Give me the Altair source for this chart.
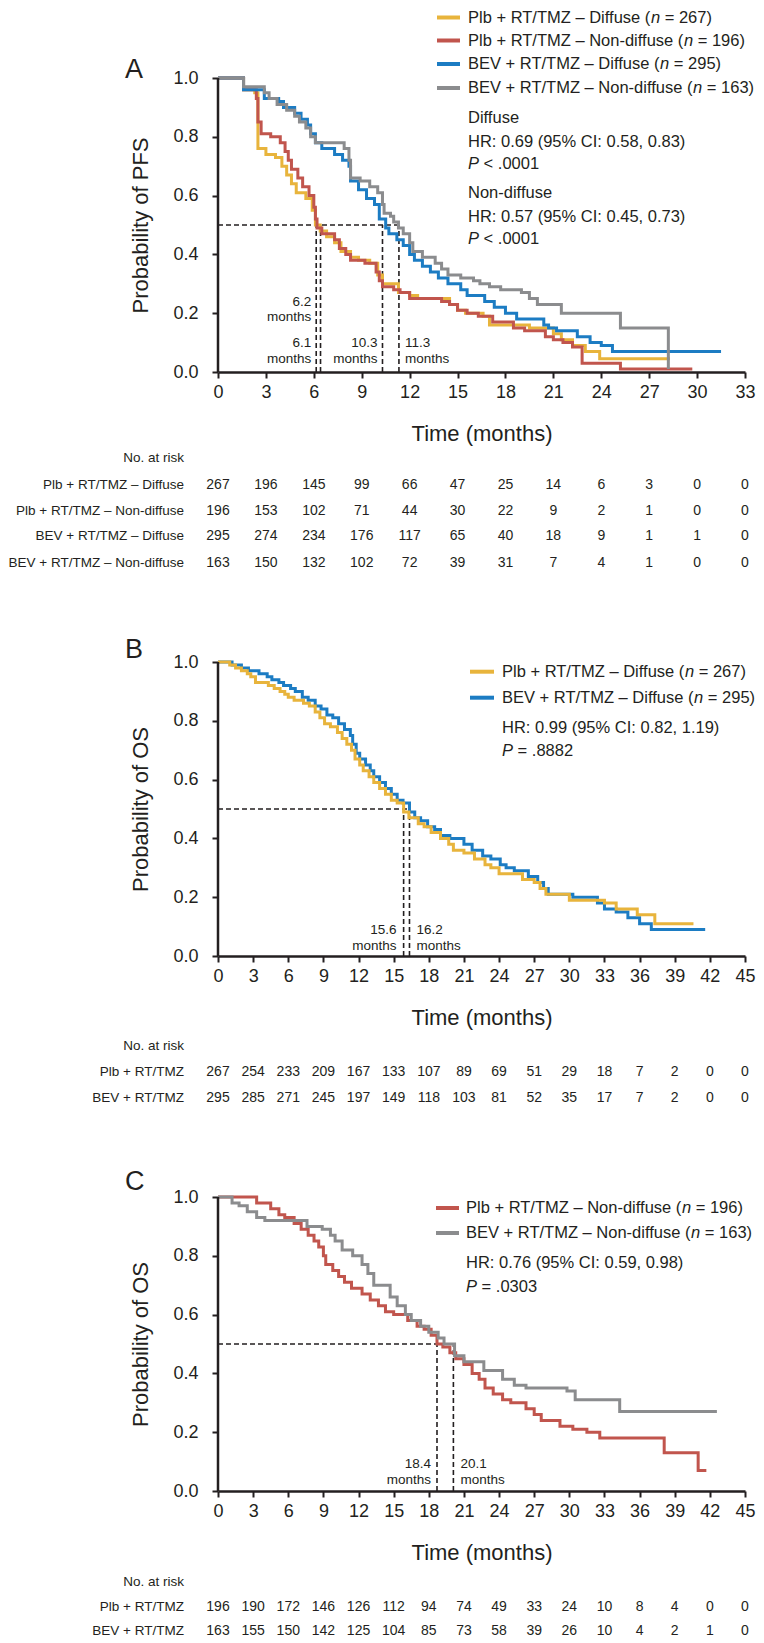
import altair as alt
import pandas as pd

INK = "#231F20"
YELLOW = "#E8B43C"
RED = "#C1554D"
BLUE = "#1C7CC3"
GRAY = "#8B8C8E"
FONT = "'Liberation Sans', Arial, Helvetica, sans-serif"

# ---------------- Panel A : PFS (month, probability) ----------------
A_PLB_DIFF = [(0, 1.0), (1.6, 0.96), (2.3, 0.95), (2.5, 0.76), (3.0, 0.74), (3.6, 0.73), (4.0, 0.70),
              (4.3, 0.67), (4.6, 0.64), (4.9, 0.61), (5.5, 0.59), (5.9, 0.55), (6.1, 0.50), (6.4, 0.48),
              (6.8, 0.46), (7.3, 0.44), (7.7, 0.41), (8.3, 0.39), (8.8, 0.38), (9.5, 0.37), (10.0, 0.33),
              (10.3, 0.30), (11.3, 0.27), (12.0, 0.26), (12.5, 0.25), (14.5, 0.23), (15.0, 0.21),
              (15.5, 0.20), (16.6, 0.19), (17.0, 0.16), (19.5, 0.15), (21.0, 0.13), (21.5, 0.11),
              (22.2, 0.09), (23.0, 0.07), (23.9, 0.045), (28.3, 0.045)]
A_PLB_NON = [(0, 1.0), (1.6, 0.96), (2.4, 0.93), (2.5, 0.85), (2.7, 0.81), (3.3, 0.80), (3.9, 0.78),
             (4.2, 0.75), (4.4, 0.72), (4.6, 0.69), (5.0, 0.66), (5.3, 0.63), (5.7, 0.60), (6.0, 0.56),
             (6.1, 0.52), (6.2, 0.49), (6.5, 0.47), (7.3, 0.45), (7.6, 0.42), (8.0, 0.40), (8.3, 0.38),
             (9.2, 0.37), (9.9, 0.34), (10.1, 0.31), (10.3, 0.29), (11.0, 0.28), (11.4, 0.27),
             (12.0, 0.25), (14.0, 0.24), (14.5, 0.23), (15.0, 0.21), (15.6, 0.20), (16.3, 0.19),
             (17.2, 0.17), (18.5, 0.15), (19.2, 0.14), (20.5, 0.12), (21.0, 0.11), (21.6, 0.10),
             (22.2, 0.085), (22.8, 0.03), (25.2, 0.01), (29.7, 0.01)]
A_BEV_DIFF = [(0, 1.0), (1.6, 0.96), (2.9, 0.93), (3.8, 0.92), (4.1, 0.90), (4.8, 0.88), (5.2, 0.86),
              (5.6, 0.84), (5.8, 0.81), (6.1, 0.78), (6.5, 0.76), (7.3, 0.74), (7.8, 0.72), (8.2, 0.70),
              (8.3, 0.65), (8.8, 0.62), (9.3, 0.59), (9.8, 0.57), (10.1, 0.52), (10.5, 0.49),
              (10.7, 0.47), (11.2, 0.45), (11.6, 0.43), (12.0, 0.40), (12.3, 0.38), (12.8, 0.36),
              (13.3, 0.34), (13.8, 0.32), (14.4, 0.30), (15.2, 0.28), (15.6, 0.26), (16.7, 0.24),
              (17.3, 0.22), (18.0, 0.20), (18.7, 0.18), (20.4, 0.16), (20.7, 0.15), (21.2, 0.14),
              (22.5, 0.12), (23.3, 0.10), (24.0, 0.09), (24.7, 0.07), (31.5, 0.07)]
A_BEV_NON = [(0, 1.0), (1.6, 0.97), (2.9, 0.95), (3.2, 0.93), (3.7, 0.91), (4.3, 0.89), (4.8, 0.87),
             (5.1, 0.85), (5.5, 0.83), (5.8, 0.80), (6.1, 0.78), (7.9, 0.76), (8.2, 0.72), (8.3, 0.66),
             (8.9, 0.65), (9.5, 0.63), (10.0, 0.61), (10.3, 0.57), (10.4, 0.54), (10.8, 0.53),
             (11.0, 0.51), (11.3, 0.49), (11.6, 0.47), (12.0, 0.44), (12.2, 0.41), (12.8, 0.39),
             (13.6, 0.37), (14.0, 0.35), (14.4, 0.33), (15.2, 0.32), (16.0, 0.31), (16.4, 0.30),
             (17.0, 0.29), (17.7, 0.28), (19.0, 0.27), (19.5, 0.25), (20.0, 0.23), (21.5, 0.20),
             (25.2, 0.15), (28.2, 0.01)]

# ---------------- Panel B : OS diffuse ----------------
B_PLB = [(0, 1.0), (1.0, 0.99), (1.5, 0.98), (2.0, 0.97), (2.5, 0.96), (2.8, 0.95), (3.2, 0.93),
         (4.3, 0.92), (4.8, 0.91), (5.3, 0.90), (5.7, 0.89), (6.0, 0.88), (6.5, 0.87), (7.3, 0.86),
         (7.8, 0.85), (8.3, 0.83), (8.7, 0.81), (9.1, 0.79), (9.6, 0.78), (10.2, 0.76), (10.6, 0.74),
         (11.0, 0.72), (11.4, 0.70), (11.7, 0.67), (12.1, 0.65), (12.4, 0.63), (12.9, 0.61),
         (13.3, 0.59), (13.8, 0.57), (14.3, 0.55), (14.8, 0.53), (15.3, 0.52), (15.85, 0.49),
         (16.3, 0.47), (17.1, 0.45), (17.6, 0.44), (18.2, 0.42), (19.0, 0.40), (19.7, 0.38),
         (20.1, 0.36), (21.0, 0.35), (21.9, 0.33), (22.8, 0.31), (23.3, 0.30), (24.0, 0.28),
         (26.0, 0.26), (27.0, 0.25), (27.5, 0.23), (28.0, 0.21), (30.0, 0.19), (33.0, 0.18),
         (34.0, 0.16), (35.8, 0.14), (37.3, 0.11), (40.6, 0.11)]
B_BEV = [(0, 1.0), (1.2, 0.99), (2.0, 0.98), (2.6, 0.97), (3.5, 0.96), (4.2, 0.95), (4.6, 0.94),
         (5.2, 0.93), (5.6, 0.92), (6.2, 0.91), (6.6, 0.90), (7.2, 0.88), (7.7, 0.87), (8.3, 0.85),
         (8.8, 0.84), (9.3, 0.82), (9.8, 0.81), (10.3, 0.79), (10.8, 0.77), (11.3, 0.75), (11.5, 0.72),
         (11.8, 0.69), (12.1, 0.67), (12.6, 0.65), (13.0, 0.63), (13.3, 0.61), (13.8, 0.59),
         (14.3, 0.57), (14.8, 0.55), (15.3, 0.53), (15.8, 0.52), (16.35, 0.49), (16.8, 0.47),
         (17.3, 0.46), (17.9, 0.44), (18.5, 0.43), (19.0, 0.41), (19.8, 0.40), (21.0, 0.38),
         (21.7, 0.36), (22.6, 0.34), (23.3, 0.33), (24.1, 0.31), (24.6, 0.30), (25.3, 0.29),
         (26.5, 0.27), (27.3, 0.25), (27.8, 0.23), (28.2, 0.21), (30.3, 0.20), (32.4, 0.18),
         (33.0, 0.16), (34.0, 0.15), (35.0, 0.13), (36.0, 0.11), (37.0, 0.09), (41.6, 0.09)]

# ---------------- Panel C : OS non-diffuse ----------------
C_PLB = [(0, 1.0), (3.3, 0.98), (4.5, 0.96), (5.2, 0.94), (5.7, 0.93), (6.5, 0.91), (7.1, 0.89),
         (7.7, 0.87), (8.2, 0.85), (8.6, 0.83), (9.0, 0.80), (9.2, 0.77), (9.8, 0.75), (10.3, 0.73),
         (10.8, 0.71), (11.4, 0.69), (12.3, 0.67), (13.0, 0.65), (13.7, 0.63), (14.3, 0.61),
         (15.0, 0.60), (16.2, 0.58), (17.0, 0.56), (17.6, 0.55), (18.2, 0.53), (18.7, 0.50),
         (19.2, 0.49), (19.8, 0.47), (20.3, 0.45), (21.0, 0.43), (21.7, 0.40), (22.3, 0.38),
         (22.8, 0.35), (23.5, 0.33), (24.3, 0.31), (25.0, 0.30), (26.3, 0.28), (27.0, 0.26),
         (27.6, 0.24), (29.2, 0.22), (30.3, 0.21), (31.5, 0.20), (32.6, 0.18), (38.1, 0.13),
         (41.0, 0.07), (41.7, 0.07)]
C_BEV = [(0, 1.0), (1.2, 0.98), (1.8, 0.97), (2.5, 0.95), (3.3, 0.93), (4.0, 0.92), (7.6, 0.90),
         (8.9, 0.89), (9.6, 0.87), (10.0, 0.85), (10.6, 0.82), (11.5, 0.80), (12.3, 0.77),
         (12.8, 0.74), (13.3, 0.70), (14.7, 0.66), (15.3, 0.63), (16.0, 0.60), (16.5, 0.58),
         (17.3, 0.56), (18.0, 0.54), (18.8, 0.52), (19.3, 0.50), (20.2, 0.46), (21.0, 0.44),
         (22.7, 0.41), (24.3, 0.38), (25.3, 0.36), (26.3, 0.35), (29.8, 0.34), (30.5, 0.31),
         (34.3, 0.27), (42.6, 0.27)]

# medians (vertical dashed lines)
A_MED_LINES = [6.15, 6.42, 10.3, 11.33]
B_MED_LINES = [15.85, 16.35]
C_MED_LINES = [18.7, 20.1]

# legends / statistics (text, italic?)
A_LEGEND = [[("Plb + RT/TMZ – Diffuse (", False), ("n", True), (" = 267)", False)],
            [("Plb + RT/TMZ – Non-diffuse (", False), ("n", True), (" = 196)", False)],
            [("BEV + RT/TMZ – Diffuse (", False), ("n", True), (" = 295)", False)],
            [("BEV + RT/TMZ – Non-diffuse (", False), ("n", True), (" = 163)", False)]]
A_STATS = [[("Diffuse", False)], [("HR: 0.69 (95% CI: 0.58, 0.83)", False)], [("P", True), (" < .0001", False)],
           [("Non-diffuse", False)], [("HR: 0.57 (95% CI: 0.45, 0.73)", False)], [("P", True), (" < .0001", False)]]
B_LEGEND = [[("Plb + RT/TMZ – Diffuse (", False), ("n", True), (" = 267)", False)],
            [("BEV + RT/TMZ – Diffuse (", False), ("n", True), (" = 295)", False)]]
B_STATS = [[("HR: 0.99 (95% CI: 0.82, 1.19)", False)], [("P", True), (" = .8882", False)]]
C_LEGEND = [[("Plb + RT/TMZ – Non-diffuse (", False), ("n", True), (" = 196)", False)],
            [("BEV + RT/TMZ – Non-diffuse (", False), ("n", True), (" = 163)", False)]]
C_STATS = [[("HR: 0.76 (95% CI: 0.59, 0.98)", False)], [("P", True), (" = .0303", False)]]

# numbers at risk
A_RISK_LABELS = ["Plb + RT/TMZ – Diffuse", "Plb + RT/TMZ – Non-diffuse",
                 "BEV + RT/TMZ – Diffuse", "BEV + RT/TMZ – Non-diffuse"]
A_RISK = [[267, 196, 145, 99, 66, 47, 25, 14, 6, 3, 0, 0],
          [196, 153, 102, 71, 44, 30, 22, 9, 2, 1, 0, 0],
          [295, 274, 234, 176, 117, 65, 40, 18, 9, 1, 1, 0],
          [163, 150, 132, 102, 72, 39, 31, 7, 4, 1, 0, 0]]
B_RISK_LABELS = ["Plb + RT/TMZ", "BEV + RT/TMZ"]
B_RISK = [[267, 254, 233, 209, 167, 133, 107, 89, 69, 51, 29, 18, 7, 2, 0, 0],
          [295, 285, 271, 245, 197, 149, 118, 103, 81, 52, 35, 17, 7, 2, 0, 0]]
C_RISK_LABELS = ["Plb + RT/TMZ", "BEV + RT/TMZ"]
C_RISK = [[196, 190, 172, 146, 126, 112, 94, 74, 49, 33, 24, 10, 8, 4, 0, 0],
          [163, 155, 150, 142, 125, 104, 85, 73, 58, 39, 26, 10, 4, 2, 1, 0]]

# ---------------- helpers ----------------
# Arial / Liberation Sans advance widths (1/1000 em)
AW = {' ': 278, '(': 333, ')': 333, '+': 584, '=': 584, '<': 584, '–': 556, '-': 333, '/': 278,
      ':': 278, '.': 278, ',': 278, '%': 889,
      'A': 667, 'B': 667, 'C': 722, 'D': 722, 'E': 667, 'F': 611, 'H': 722, 'I': 278, 'M': 833,
      'N': 722, 'P': 667, 'R': 722, 'S': 667, 'T': 611, 'V': 667, 'Z': 611,
      'a': 556, 'b': 556, 'c': 500, 'd': 556, 'e': 556, 'f': 278, 'i': 222, 'k': 500, 'l': 222,
      'm': 833, 'n': 556, 'o': 556, 'r': 333, 's': 500, 't': 278, 'u': 556, 'y': 500}


def tw(s, size):
    return sum(AW.get(c, 556) for c in s) / 1000.0 * size


DUMMY = pd.DataFrame({"d": [0]})
LEG_SIZE = 16.5


def vtext(text, x, y, size, align="left", baseline="middle", italic=False, color=INK):
    return alt.Chart(DUMMY).mark_text(
        text=text, align=align, baseline=baseline, font=FONT, fontSize=size,
        fontStyle="italic" if italic else "normal", color=color
    ).encode(x=alt.value(x), y=alt.value(y))


def run_text(parts, x, y, size):
    out = []
    cx = x
    for s, it in parts:
        core = s.strip(" ")
        lead = len(s) - len(s.lstrip(" "))
        trail = len(s) - lead - len(core)
        cx += tw(" " * lead, size)
        out.append(vtext(core, cx, y, size, italic=it))
        cx += tw(core, size) + tw(" " * trail, size)
    return out


def panel(xmax, extra, ytitle, curves, med_lines, med_right, med_left, dx_r, dx_l,
          letter, letter_y, legend, leg_y, sw_x, txt_x, stats, stats_y,
          risk_labels, risk, risk_head_y, risk_y):
    H = 294 + extra
    xs = alt.Scale(domain=[0, xmax], nice=False, zero=True)
    ys = alt.Scale(domain=[0, H / 294.0], nice=False, zero=True)
    xaxis = alt.Axis(values=list(range(0, xmax + 1, 3)), format="d", title="Time (months)",
                     titleFont=FONT, titleFontSize=22, titleFontWeight="normal", titleColor=INK,
                     titleX=263.5, titleY=61, titleBaseline="middle", titleAlign="center",
                     labelFont=FONT, labelFontSize=18, labelColor=INK, labelPadding=5,
                     tickSize=6, tickWidth=2, tickColor=INK, domainWidth=2.5, domainColor=INK,
                     grid=False, labelFlush=False, labelOverlap=False)
    yaxis = alt.Axis(values=[0, 0.2, 0.4, 0.6, 0.8, 1.0], format=".1f", title=ytitle,
                     titleFont=FONT, titleFontSize=22, titleFontWeight="normal", titleColor=INK,
                     titleAngle=270, titleX=-78, titleY=extra + 147, titleBaseline="middle",
                     titleAlign="center", labelFont=FONT, labelFontSize=18, labelColor=INK,
                     labelPadding=14, tickSize=6, tickWidth=2, tickColor=INK, domain=False,
                     grid=False, labelFlush=False, labelOverlap=False)

    def X():
        return alt.X("t:Q", scale=xs, axis=xaxis)

    def Y():
        return alt.Y("s:Q", scale=ys, axis=yaxis)

    layers = []

    # median dashed lines
    hdf = pd.DataFrame({"t": [0.0], "t2": [max(med_lines)], "s": [0.5]})
    layers.append(alt.Chart(hdf).mark_rule(color=INK, strokeWidth=1.6, strokeDash=[5, 3]).encode(
        x=X(), x2="t2:Q", y=Y()))
    vdf = pd.DataFrame({"t": med_lines, "s": [0.0] * len(med_lines), "s2": [0.5] * len(med_lines)})
    layers.append(alt.Chart(vdf).mark_rule(color=INK, strokeWidth=1.6, strokeDash=[5, 3]).encode(
        x=X(), y=Y(), y2="s2:Q"))

    # survival curves
    for pts, col in curves:
        cdf = pd.DataFrame({"t": [p[0] for p in pts], "s": [p[1] for p in pts]})
        layers.append(alt.Chart(cdf).mark_line(interpolate="step-after", strokeWidth=3, color=col).encode(
            x=X(), y=Y()))

    # y axis line from 0 to 1.0
    ydf = pd.DataFrame({"t": [0.0], "s": [0.0], "s2": [1.0]})
    layers.append(alt.Chart(ydf).mark_rule(color=INK, strokeWidth=2.5).encode(x=X(), y=Y(), y2="s2:Q"))

    # median labels
    mdf = pd.DataFrame({"t": [m[0] for m in med_right], "s": [m[1] for m in med_right],
                        "lab": [m[2] for m in med_right]})
    layers.append(alt.Chart(mdf).mark_text(align="right", baseline="middle", dx=dx_r, font=FONT,
                                           fontSize=13.5, color=INK).encode(x=X(), y=Y(), text="lab:N"))
    mdf2 = pd.DataFrame({"t": [m[0] for m in med_left], "s": [m[1] for m in med_left],
                         "lab": [m[2] for m in med_left]})
    layers.append(alt.Chart(mdf2).mark_text(align="left", baseline="middle", dx=dx_l, font=FONT,
                                            fontSize=13.5, color=INK).encode(x=X(), y=Y(), text="lab:N"))

    # legend
    for (parts, col), yy in zip(legend, leg_y):
        layers.append(alt.Chart(DUMMY).mark_rule(color=col, strokeWidth=4).encode(
            x=alt.value(sw_x[0]), x2=alt.value(sw_x[1]), y=alt.value(extra + yy)))
        layers += run_text(parts, txt_x, extra + yy, LEG_SIZE)
    for parts, yy in zip(stats, stats_y):
        layers += run_text(parts, txt_x, extra + yy, LEG_SIZE)

    # numbers at risk
    layers.append(vtext("No. at risk", -34, extra + risk_head_y, 13.5, align="right"))
    months = list(range(0, xmax + 1, 3))
    for lab, counts, yy in zip(risk_labels, risk, risk_y):
        layers.append(vtext(lab, -34, extra + yy, 13.5, align="right"))
        rdf = pd.DataFrame({"t": months, "n": counts})
        layers.append(alt.Chart(rdf).mark_text(font=FONT, fontSize=14, color=INK, baseline="middle").encode(
            x=X(), y=alt.value(extra + yy), text="n:Q"))

    # panel letter
    layers.append(vtext(letter, -93, extra + letter_y, 27, baseline="alphabetic"))

    return alt.layer(*layers).properties(width=527, height=H)


pA = panel(33, 0, "Probability of PFS",
           [(A_PLB_DIFF, YELLOW), (A_PLB_NON, RED), (A_BEV_DIFF, BLUE), (A_BEV_NON, GRAY)],
           A_MED_LINES,
           [(6.15, 0.239, "6.2"), (6.15, 0.188, "months"), (6.15, 0.099, "6.1"), (6.15, 0.044, "months"),
            (10.3, 0.099, "10.3"), (10.3, 0.044, "months")],
           [(11.33, 0.099, "11.3"), (11.33, 0.044, "months")], -5, 6,
           "A", 0,
           list(zip(A_LEGEND, [YELLOW, RED, BLUE, GRAY])), [-60.5, -37.5, -14, 10], (219, 242), 250,
           A_STATS, [40, 63.7, 86.3, 115, 138.7, 161.3],
           A_RISK_LABELS, A_RISK, 380, [407, 433, 458, 485])

pB = panel(45, 49, "Probability of OS",
           [(B_BEV, BLUE), (B_PLB, YELLOW)],
           B_MED_LINES,
           [(15.85, 0.089, "15.6"), (15.85, 0.035, "months")],
           [(16.35, 0.089, "16.2"), (16.35, 0.035, "months")], -7, 7,
           "B", -4,
           list(zip(B_LEGEND, [YELLOW, BLUE])), [9.7, 35.7], (252, 276), 284,
           B_STATS, [66, 88.7],
           B_RISK_LABELS, B_RISK, 384, [410, 436])

pC = panel(45, 0, "Probability of OS",
           [(C_PLB, RED), (C_BEV, GRAY)],
           C_MED_LINES,
           [(18.7, 0.092, "18.4"), (18.7, 0.038, "months")],
           [(20.1, 0.092, "20.1"), (20.1, 0.038, "months")], -6, 7,
           "C", -7,
           list(zip(C_LEGEND, [RED, GRAY])), [11, 36], (218, 241), 248,
           C_STATS, [66, 90],
           C_RISK_LABELS, C_RISK, 385, [410, 434])

chart = alt.vconcat(pA, pB, pC, spacing=241, bounds="flush").properties(
    padding={"left": 210, "top": 70, "right": 11, "bottom": 1560},
    autosize=alt.AutoSizeParams(type="none"),
    background="white"
).configure_view(stroke=None)

chart.save("out.html", embed_options={"renderer": "svg", "actions": False})
